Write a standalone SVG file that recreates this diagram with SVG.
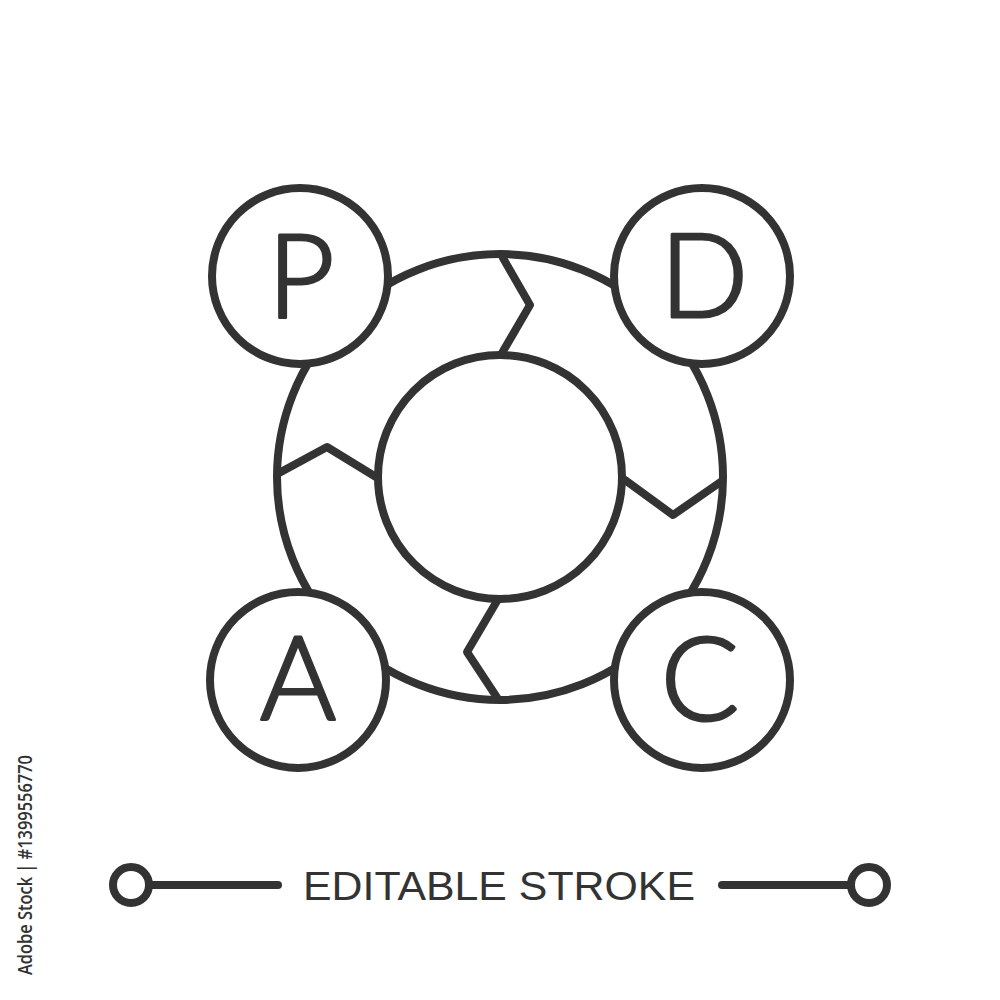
<svg xmlns="http://www.w3.org/2000/svg" width="1000" height="1000" viewBox="0 0 1000 1000">
<style>
.ln{fill:none;stroke:#333;stroke-width:8;stroke-linecap:round;stroke-linejoin:round}
.node{fill:#fff;stroke:#333;stroke-width:8}
.let{font-family:Lato,"Liberation Sans",sans-serif;font-weight:300;font-size:116px;fill:#333;stroke:#333;stroke-width:3;stroke-linejoin:round;text-anchor:middle}
.cap{font-family:"Liberation Sans",Arial,sans-serif;font-size:41px;fill:#333}
</style>
<rect width="1000" height="1000" fill="#fff"/>
<g id="ring">
<circle cx="500" cy="477" r="223" class="ln"/>
<circle cx="500" cy="477" r="122" class="ln"/>
</g>
<g id="connectors">
<polyline class="ln" points="503,258 530,305 502,353"/>
<polyline class="ln" points="625,480 673,515 722,481"/>
<polyline class="ln" points="497,601 467,652 498,699"/>
<polyline class="ln" points="279,473 327,447 376,477"/>
</g>
<g id="node-P"><circle cx="300" cy="276" r="88" class="node"/><text x="301" y="317" class="let">P</text></g>
<g id="node-D"><circle cx="702" cy="276" r="88" class="node"/><text x="704" y="317" class="let">D</text></g>
<g id="node-A"><circle cx="298" cy="680" r="88" class="node"/><text x="298" y="720" class="let">A</text></g>
<g id="node-C"><circle cx="702" cy="680" r="88" class="node"/><text x="700" y="720" class="let">C</text></g>
<g id="footer">
<line x1="149" y1="885" x2="278" y2="885" class="ln" stroke-linecap="butt"/>
<circle cx="131" cy="885" r="18" class="ln"/>
<line x1="722" y1="885" x2="851" y2="885" class="ln" stroke-linecap="butt"/>
<circle cx="869" cy="885" r="18" class="ln"/>
<text x="303" y="900" class="cap" textLength="392" lengthAdjust="spacingAndGlyphs">EDITABLE STROKE</text>
</g>
<text transform="translate(32,975) rotate(-90)" font-family="'Open Sans','Liberation Sans',sans-serif" font-weight="600" font-size="19" fill="#333" textLength="220" lengthAdjust="spacingAndGlyphs">Adobe Stock | #1399556770</text>
</svg>
